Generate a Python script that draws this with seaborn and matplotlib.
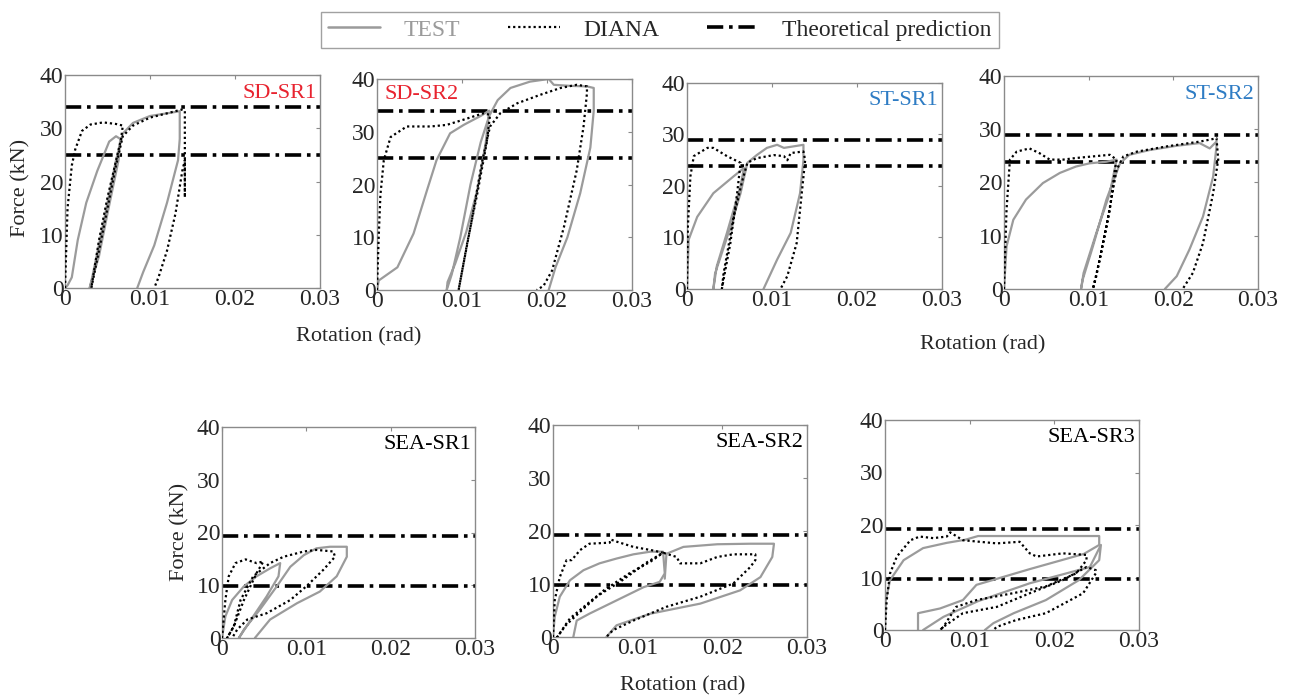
import numpy as np
import pandas as pd
import matplotlib.pyplot as plt
from matplotlib.lines import Line2D
import seaborn as sns

nan = np.nan

# ---- data (rotation in rad, force in kN); nan splits a curve into pieces ----
sd1_test_x = [0, 0.0003, 0.0008, 0.0015, 0.0025, 0.0038, 0.0052, 0.006, 0.0065, 0.0063, 0.005, 0.004, 0.0029,
              0.0032, 0.0045, 0.006, 0.0068, 0.008, 0.010, 0.012, 0.0135, 0.0135, 0.0133, 0.012, 0.0105, 0.0092, 0.0085]
sd1_test_y = [0, 0.5, 2, 9, 16, 22, 27.5, 28.5, 28, 24, 14, 6, 0,
              2, 12, 24, 29, 31, 32.3, 32.8, 33.2, 28, 24, 16, 8, 3, 0]
sd1_diana_x = [0, 0.0001, 0.0003, 0.0008, 0.0012, 0.002, 0.003, 0.0045, 0.006, 0.0068, 0.0066, 0.005, 0.004, 0.0031,
               0.0045, 0.006, 0.0068, 0.008, 0.010, 0.012, 0.0137, 0.0141, 0.0141, 0.0141, 0.0138, 0.013, 0.012, 0.011, 0.0105]
sd1_diana_y = [0, 5, 15, 23, 26, 29.5, 30.7, 31.1, 30.8, 30.5, 28, 17, 9, 0,
               11, 23, 28.5, 30.5, 32, 32.8, 33.5, 33.3, 17, 24, 22, 14, 7, 2, 0]

sd2_test_x = [0, 0.0002, 0.0024, 0.0043, 0.0059, 0.007, 0.0086, 0.0102, 0.0122, 0.0132, 0.0128, 0.0118, 0.0105,
              0.0092, 0.0083, 0.0082, 0.0088, 0.0098, 0.011, 0.0122, 0.0132, 0.0142, 0.0157, 0.018, 0.0202, 0.0208,
              0.0227, 0.0247, 0.0255, 0.0255, 0.0251, 0.0239, 0.0224, 0.021, 0.0202]
sd2_test_y = [0, 1.8, 4.3, 10.7, 19, 24.6, 29.7, 31.3, 33, 34, 28, 19, 11,
              5, 1.5, 0, 3, 10, 20, 28, 33, 36, 38.3, 39.5, 40, 38.9,
              38.7, 38.6, 38.3, 34, 27, 18.3, 10, 4.3, 0]
sd2_diana_x = [0, 0.0002, 0.0004, 0.0008, 0.0016, 0.0035, 0.0063, 0.0082, 0.0102, 0.0125, 0.0133, 0.0129, 0.0118,
               0.0106, 0.0096, 0.011, 0.0124, 0.0133, 0.0145, 0.0165, 0.0192, 0.0216, 0.0235, 0.0247, 0.0247,
               0.0243, 0.0235, 0.022, 0.0206, 0.0196, 0.0188]
sd2_diana_y = [0, 10, 18, 24.6, 29, 31, 31, 31.3, 32.3, 33.5, 33.2, 27.8, 18.3,
               8.8, 0, 12, 24.6, 31, 33.5, 35.4, 37, 38.3, 38.9, 38.6, 37.3,
               31, 22.7, 12, 3.7, 0.8, 0]

st1_test_x = [0, 0.0002, 0.0012, 0.0031, 0.0055, 0.0067, 0.0063, 0.0047, 0.0035, 0.0031,
              0.0033, 0.0051, 0.0063, 0.0071, 0.0082, 0.0094, 0.0106, 0.0114, 0.0137, 0.0137, 0.0133,
              0.0122, 0.0106, 0.009]
st1_test_y = [0, 9.6, 14, 18.6, 21.9, 23.5, 20, 10.9, 4.4, 0,
              3, 12, 18.6, 24.5, 26, 27.4, 28, 27.4, 28, 25, 18.6,
              10.9, 5.7, 0]
st1_diana_x = [0, 0.0001, 0.0004, 0.0008, 0.0024, 0.0031, 0.0047, 0.0063, 0.0059, 0.0051, 0.0041,
               0.0043, 0.0055, 0.0065, 0.0071, 0.0082, 0.0102, 0.0114, 0.0118, 0.0122, 0.0137, 0.0139,
               0.0135, 0.0129, 0.0118, 0.011]
st1_diana_y = [0, 12, 21.9, 25.8, 27.4, 27.4, 25.8, 24.5, 18.6, 8.9, 0,
               3, 14, 21, 24.5, 25.4, 26, 25.8, 25, 26.4, 26.7, 25,
               18.6, 8.9, 2.5, 0]

st2_test_x = [0, 0.0003, 0.0011, 0.0026, 0.0046, 0.0066, 0.0085, 0.0101, 0.0121, 0.0133, 0.0125, 0.0109,
              0.0094, 0.0091, 0.0093, 0.0105, 0.0121, 0.0137, 0.0148, 0.0172, 0.0204, 0.0231, 0.0243,
              0.0251, 0.0251, 0.0247, 0.0235, 0.0219, 0.0204, 0.019]
st2_test_y = [0, 8, 13, 16.8, 19.9, 21.8, 23, 23.6, 23.9, 24.3, 18, 10.5,
              3, 0, 1.8, 8, 16.8, 23.6, 25.2, 26.1, 26.9, 27.4, 26.4,
              27.7, 26.8, 21.1, 13.6, 7.4, 2.4, 0]
st2_diana_x = [0, 0.0003, 0.0007, 0.0015, 0.003, 0.0042, 0.0054, 0.007, 0.0085, 0.0105, 0.0125, 0.0133,
               0.0131, 0.0125, 0.0113, 0.0105, 0.0109, 0.0121, 0.0133, 0.0141, 0.0157, 0.0193, 0.0232,
               0.0251, 0.0253, 0.0247, 0.0235, 0.0223, 0.0211]
st2_diana_y = [0, 14.9, 24.3, 25.8, 26.4, 25.5, 24.3, 24.3, 24.6, 24.9, 25.2, 24.3,
               22.4, 14.9, 5.5, 0, 2.4, 11.8, 22.4, 24.9, 25.8, 26.8, 27.7,
               28.3, 24.3, 18, 8.6, 3, 0]

sea1_test_x = [0, 0.0004, 0.0012, 0.0026, 0.0041, 0.0057, 0.0069, 0.0067, 0.0053, 0.0037, 0.002,
               0.0026, 0.0045, 0.0065, 0.0081, 0.0097, 0.0112, 0.0128, 0.0148, 0.0148, 0.0136, 0.0116,
               0.0089, 0.0057, 0.0039]
sea1_test_y = [0, 4.1, 7.2, 9.8, 11.7, 13.2, 14.2, 11.7, 7.9, 4.1, 0,
               1.6, 5.4, 9.8, 13.5, 15.7, 17, 17.3, 17.3, 15.4, 11.7, 8.8,
               6.6, 3.5, 0]
sea1_diana_x = [0, 0.0004, 0.0008, 0.0016, 0.0028, 0.0041, 0.0049, 0.0041, 0.0026, 0.0014, 0.0006,
                0.0014, 0.0022, 0.0037, 0.0057, 0.0073, 0.0097, 0.0112, 0.0132, 0.0134, 0.012, 0.01,
                0.0081, 0.0053, 0.003, 0.0018, 0.0012]
sea1_diana_y = [0, 7.2, 11.7, 14.2, 14.9, 14.2, 14.5, 12.3, 7.2, 2.2, 0,
                2.2, 7.2, 11.7, 14.2, 15.4, 16.4, 16.7, 16.4, 15.4, 12.9, 9.8,
                7.2, 4.7, 3.5, 1.6, 0]

sea2_test_x = [0, 0.0002, 0.0008, 0.002, 0.0036, 0.0055, 0.0075, 0.0095, 0.0115, 0.013, 0.0132, 0.0126,
               0.0107, 0.0075, 0.0043, 0.0028, 0.0024, nan,
               0.0132, 0.0134, 0.0154, 0.0194, 0.0233, 0.0261, 0.0259, 0.0245, 0.0221, 0.0174, 0.0115,
               0.0075, 0.0063]
sea2_test_y = [0, 3.8, 7.6, 10.7, 12.6, 13.9, 14.8, 15.6, 16.1, 16.1, 12, 10.4,
               9.4, 6.9, 4.4, 3.1, 0, nan,
               11, 15.7, 17, 17.5, 17.6, 17.6, 15.1, 11.3, 8.8, 6.3, 4.4,
               2.2, 0]
sea2_diana_x = [0, 0.0002, 0.0008, 0.0016, 0.0022, 0.0032, 0.0043, 0.0067, 0.0068, 0.0075, 0.0095, 0.0119,
                0.013, 0.0115, 0.009, 0.006, 0.0035, 0.0015, 0.0005, 0.002, 0.005, 0.008, 0.011, 0.013,
                0.0146, 0.015, 0.0174, 0.0194, 0.0213, 0.0239, 0.0239, 0.0233, 0.0213, 0.0174, 0.0134,
                0.0095, 0.0071, 0.0063]
sea2_diana_y = [0, 6.9, 11.3, 14.5, 14.5, 16.4, 17.6, 17.8, 18.4, 18, 17, 16.3,
                15.9, 14.2, 12, 8.8, 5.2, 2.2, 0, 3.5, 7.5, 10.5, 14, 15.9,
                15.1, 13.9, 13.9, 15.1, 15.6, 15.6, 14.5, 13.2, 10.1, 7.6, 5.7,
                3.1, 1.3, 0]

sea3_test_x = [0, 0.0001, 0.0006, 0.0022, 0.0045, 0.0073, 0.0095, 0.011, 0.0253, 0.0253, 0.0235, 0.0171,
               0.0108, 0.0092, 0.0065, 0.0039, 0.0039, nan,
               0.0045, 0.0069, 0.011, 0.0171, 0.0242, 0.0255, 0.0253, 0.0229, 0.019, 0.0152, 0.0128, 0.0118]
sea3_test_y = [0, 5.7, 9.5, 13.3, 15.6, 16.6, 17.2, 17.9, 17.9, 16.2, 14.5, 11.6,
               8.6, 5.7, 4.1, 3.2, 0, nan,
               0, 2.5, 5.5, 8.9, 12, 16.2, 13.3, 9.5, 5.7, 3.2, 1.3, 0]
sea3_diana_x = [0, 0.0002, 0.0006, 0.0014, 0.003, 0.0041, 0.0057, 0.0073, 0.0077, 0.0092, 0.0132, 0.0159,
                0.0171, 0.0179, 0.021, 0.0238, 0.0238, 0.0226, 0.019, 0.0151, 0.0108, 0.0084, 0.0069, 0.0065,
                0.0069, 0.0092, 0.0132, 0.0171, 0.021, 0.0238, 0.0249, 0.0249, 0.0234, 0.019, 0.0155, 0.0132, 0.0128]
sea3_diana_y = [0, 5.7, 10.8, 14, 17.1, 17.8, 17.5, 17.8, 18.6, 17.1, 16.5, 16.8,
                14.6, 14, 14.6, 14.3, 13.3, 10.8, 8.3, 7, 5.7, 4.4, 0.6, 0,
                0.6, 3.2, 4.4, 7, 9.5, 12, 11.4, 10.8, 7, 3.2, 1.9, 0.6, 0]

theory_sd = [34, 25]
theory_st = [29, 23.8]
theory_sea = [19.3, 9.8]

names = ["SD-SR1", "SD-SR2", "ST-SR1", "ST-SR2", "SEA-SR1", "SEA-SR2", "SEA-SR3"]
x_ticks = [0, 0.01, 0.02, 0.03]
x_labels = ["0", "0.01", "0.02", "0.03"]
y_ticks = [0, 10, 20, 30, 40]

panels = [
    (sd1_test_x, sd1_test_y, sd1_diana_x, sd1_diana_y, theory_sd),
    (sd2_test_x, sd2_test_y, sd2_diana_x, sd2_diana_y, theory_sd),
    (st1_test_x, st1_test_y, st1_diana_x, st1_diana_y, theory_st),
    (st2_test_x, st2_test_y, st2_diana_x, st2_diana_y, theory_st),
    (sea1_test_x, sea1_test_y, sea1_diana_x, sea1_diana_y, theory_sea),
    (sea2_test_x, sea2_test_y, sea2_diana_x, sea2_diana_y, theory_sea),
    (sea3_test_x, sea3_test_y, sea3_diana_x, sea3_diana_y, theory_sea),
]

# ---- style ----
sns.set_style("white")
plt.rcParams['font.family'] = ['Liberation Serif', 'DejaVu Serif']
plt.rcParams['mathtext.fontset'] = 'stix'

W, H = 1294, 698
# axes boxes in pixels: left, top, right, bottom
boxes = [(65, 75, 320, 288), (377, 79, 632, 290), (687, 83, 942, 289), (1004, 76, 1258, 289),
         (222, 427, 475, 638), (553, 425, 807, 637), (885, 420, 1139, 630)]
title_colors = ["#e8232f", "#e8232f", "#2e7cc4", "#2e7cc4", "black", "black", "black"]

gray = "#9b9b9b"
spine_gray = "#8a8a8a"
dashdot = (0, (4.5, 1.6, 1.0, 1.6))


def to_frame(x, y):
    df = pd.DataFrame({"rot": x, "force": y})
    df["seg"] = df["rot"].isna().cumsum()
    return df.dropna()


fig = plt.figure(figsize=(W / 100, H / 100), dpi=100)

for i, (box, (tx, ty, dx, dy, th)) in enumerate(zip(boxes, panels)):
    l, t, r, b = box
    ax = fig.add_axes([l / W, 1 - b / H, (r - l) / W, (b - t) / H])

    for yv in th:
        ax.axhline(yv, color="black", lw=2.6, linestyle=dashdot, zorder=1)

    sns.lineplot(data=to_frame(tx, ty), x="rot", y="force", units="seg", estimator=None,
                 sort=False, color=gray, lw=1.6, ax=ax, zorder=2)
    sns.lineplot(data=to_frame(dx, dy), x="rot", y="force", units="seg", estimator=None,
                 sort=False, color="black", lw=1.6, linestyle=(0, (1, 1.3)), ax=ax, zorder=3)

    ax.set_xlim(0, 0.03)
    ax.set_ylim(0, 40)
    ax.set_xticks(x_ticks)
    ax.set_xticklabels(x_labels)
    ax.set_yticks(y_ticks)
    ax.set_xlabel("")
    ax.set_ylabel("")
    ax.tick_params(direction="in", top=True, right=True, length=3, width=0.8,
                   color=spine_gray, labelsize=17, pad=1)
    for s in ax.spines.values():
        s.set_color(spine_gray)
        s.set_linewidth(1)

    if names[i] == "SD-SR2":
        ax.text(0.03, 0.97, names[i], transform=ax.transAxes, ha="left", va="top",
                fontsize=16, color=title_colors[i])
    else:
        ax.text(0.985, 0.96, names[i], transform=ax.transAxes, ha="right", va="top",
                fontsize=16, color=title_colors[i])

# axis labels
fig.text(21 / W, 1 - 188 / H, "Force (kN)", rotation=90, ha="center", va="center", fontsize=16)
fig.text(180 / W, 1 - 532 / H, "Force (kN)", rotation=90, ha="center", va="center", fontsize=16)
fig.text(359 / W, 1 - 337 / H, "Rotation (rad)", ha="center", va="center", fontsize=16)
fig.text(983 / W, 1 - 345 / H, "Rotation (rad)", ha="center", va="center", fontsize=16)
fig.text(683 / W, 1 - 686 / H, "Rotation (rad)", ha="center", va="center", fontsize=16)

# legend
handles = [Line2D([], [], color=gray, lw=1.8),
           Line2D([], [], color="black", lw=1.6, linestyle=(0, (1, 1.3))),
           Line2D([], [], color="black", lw=2.6, linestyle=dashdot)]
leg = fig.legend(handles, ["TEST", "DIANA", "Theoretical prediction"], loc="center",
                 bbox_to_anchor=(660 / W, 1 - 30 / H), ncol=3, fontsize=17, frameon=True,
                 fancybox=False, edgecolor=spine_gray, handlelength=2.2, handletextpad=1.0,
                 columnspacing=2.0, borderpad=0.3)
leg.get_frame().set_linewidth(1)
leg.get_texts()[0].set_color(gray)

fig.savefig("out.png", dpi=100)
